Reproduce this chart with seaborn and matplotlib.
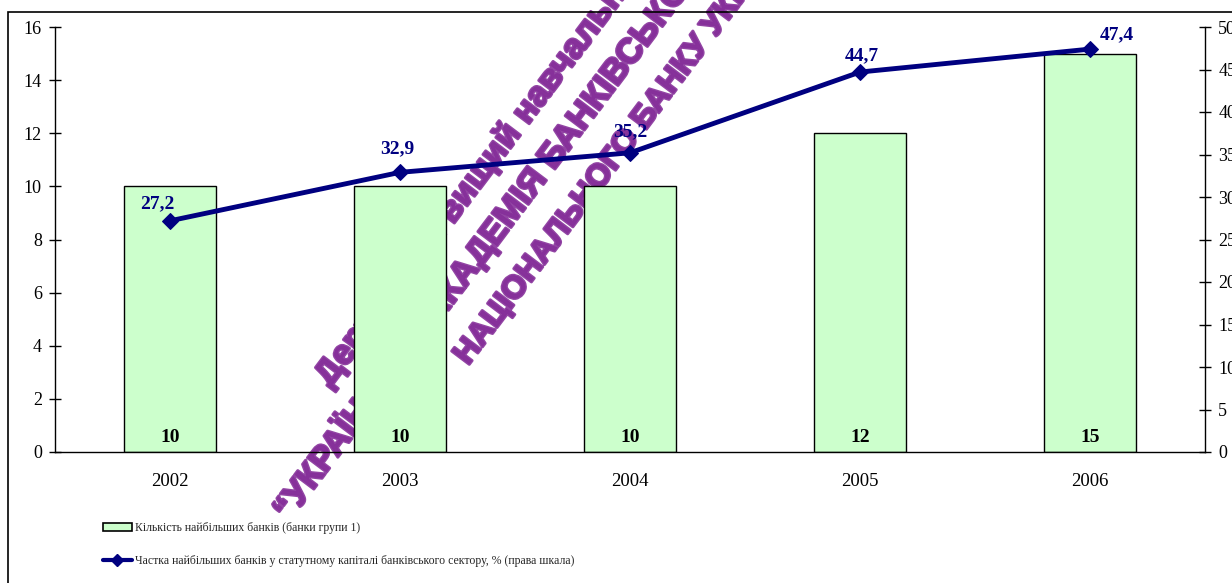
import matplotlib
matplotlib.use("Agg")
import matplotlib.pyplot as plt
from matplotlib.patches import Rectangle, Patch
from matplotlib.lines import Line2D
import matplotlib.patheffects as pe
import numpy as np
import seaborn as sns

# Data
years = ["2002", "2003", "2004", "2005", "2006"]
bank_counts = [10, 10, 10, 12, 15]
capital_share = [27.2, 32.9, 35.2, 44.7, 47.4]
count_labels = ["10", "10", "10", "12", "15"]
share_labels = ["27,2", "32,9", "35,2", "44,7", "47,4"]
left_ticks = [0, 2, 4, 6, 8, 10, 12, 14, 16]
right_ticks = [0, 5, 10, 15, 20, 25, 30, 35, 40, 45, 50]
legend_labels = [
    "Кількість найбільших банків (банки групи 1)",
    "Частка найбільших банків у статутному капіталі банківського сектору, % (права шкала)",
]
stamp_lines = [
    "Державний вищий навчальний заклад",
    "\u201cУКРАЇНСЬКА АКАДЕМІЯ БАНКІВСЬКОЇ СПРАВИ",
    "НАЦІОНАЛЬНОГО БАНКУ УКРАЇНИ\u201d",
]

sns.set_theme(style="white")
plt.rcParams["font.family"] = ["Liberation Serif", "DejaVu Serif"]

W, H = 1232, 583
fig = plt.figure(figsize=(W / 100, H / 100), dpi=100)
fig.patch.set_facecolor("white")

NAVY = "#000080"
GREEN = "#CCFFCC"
STAMP = "#86309A"

# Library stamp, drawn beneath the chart content
stamp_pos = [(330, 388), (289, 522), (468, 366)]
stamp_sizes = [25, 25, 23]
for txt, (px, py), fs in zip(stamp_lines, stamp_pos, stamp_sizes):
    fig.text(px / W, 1 - py / H, txt, rotation=53, rotation_mode="anchor",
             ha="left", va="baseline", color=STAMP, alpha=0.9,
             fontsize=fs, fontweight="bold",
             family=["Liberation Sans", "DejaVu Sans"], zorder=0,
             path_effects=[pe.withStroke(linewidth=2.2, foreground=STAMP)])

# Outer frame of the chart area
fig.patches.append(Rectangle((8 / W, -0.1), 2.0, (1 - 12 / H) + 0.1,
                             transform=fig.transFigure, fill=False,
                             edgecolor="black", linewidth=1.2, zorder=1))

ax = fig.add_axes([55 / W, 1 - 452 / H, 1150 / W, 425 / H])
ax.patch.set_alpha(0)
ax.set_zorder(2)

sns.barplot(x=years, y=bank_counts, ax=ax, color=GREEN, saturation=1,
            edgecolor="black", linewidth=1.0, width=0.4)

ax.set_xlim(-0.5, 4.5)
ax.set_ylim(0, 16)
ax.set_yticks(left_ticks)
ax.set_yticklabels([str(t) for t in left_ticks])
ax.set_xticks(np.arange(-0.5, 5.0, 1.0))
ax.set_xticklabels([""] * 6)
ax.set_xticks(np.arange(len(years)), minor=True)
ax.set_xticklabels(years, minor=True)
ax.tick_params(axis="x", which="major", direction="inout", length=9, width=1, color="black")
ax.tick_params(axis="x", which="minor", length=0, pad=15, labelsize=13.5, labelcolor="black")
ax.tick_params(axis="y", direction="inout", length=9, width=1, pad=5,
               labelsize=13, labelcolor="black", color="black", left=True)
ax.set_xlabel("")
ax.set_ylabel("")
for s in ["top", "right"]:
    ax.spines[s].set_visible(False)
for s in ["left", "bottom"]:
    ax.spines[s].set_color("black")
    ax.spines[s].set_linewidth(1.0)

for i, lab in enumerate(count_labels):
    ax.annotate(lab, (i, 0), xytext=(0, 4), textcoords="offset points",
                ha="center", va="bottom", fontsize=14, fontweight="bold", color="black")

ax2 = ax.twinx()
ax2.patch.set_alpha(0)
sns.lineplot(x=np.arange(len(years)), y=capital_share, ax=ax2, color=NAVY,
             linewidth=3.5, marker="D", markersize=8, markeredgecolor=NAVY)
ax2.set_ylim(0, 50)
ax2.set_yticks(right_ticks)
ax2.set_yticklabels([str(t) for t in right_ticks])
ax2.tick_params(axis="y", direction="inout", length=9, width=1, pad=5,
                labelsize=13, labelcolor="black", color="black", right=True)
for s in ["top", "left", "bottom"]:
    ax2.spines[s].set_visible(False)
ax2.spines["right"].set_color("black")
ax2.spines["right"].set_linewidth(1.0)
ax2.set_ylabel("")

label_shift = [(-9, 12), (-2, 17), (0, 15), (1, 12), (19, 10)]
for i, (lab, (dx, dy)) in enumerate(zip(share_labels, label_shift)):
    ax2.annotate(lab, (i, capital_share[i]), xytext=(dx, dy), textcoords="offset points",
                 ha="center", va="center", fontsize=14, fontweight="bold", color=NAVY)

handles = [
    Patch(facecolor=GREEN, edgecolor="black", linewidth=1.2),
    Line2D([0], [0], color=NAVY, linewidth=3, marker="D", markersize=6),
]
fig.legend(handles, legend_labels, loc="upper left", bbox_to_anchor=(103 / W, 1 - 522 / H),
           frameon=False, fontsize=8.5, handlelength=2.45, handletextpad=0.3,
           labelspacing=1.75, borderpad=0, borderaxespad=0)

fig.savefig("out.png", dpi=100, facecolor="white")
